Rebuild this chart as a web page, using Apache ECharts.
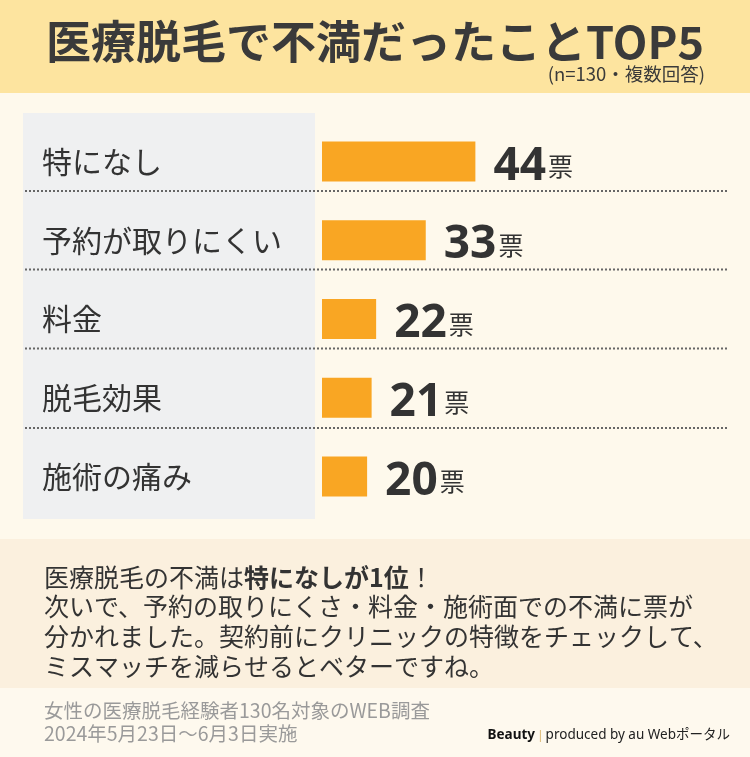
<!DOCTYPE html>
<html><head><meta charset="utf-8">
<script src="https://cdn.jsdelivr.net/npm/echarts@6/dist/echarts.min.js"></script>
<style>html,body{margin:0;padding:0;background:#fef9ec}#c{width:750px;height:757px}</style>
</head><body><div id="c"></div>
<script>
const categories = ['特になし', '予約が取りにくい', '料金', '脱毛効果', '施術の痛み'];
const votes = [44, 33, 22, 21, 20];
const unit = '票';
const titleText = '医療脱毛で不満だったことTOP5';
const subtitleText = '(n=130・複数回答)';
const noteLines = ['次いで、予約の取りにくさ・料金・施術面での不満に票が', '分かれました。契約前にクリニックの特徴をチェックして、', 'ミスマッチを減らせるとベターですね。'];
const sourceLines = ['女性の医療脱毛経験者130名対象のWEB調査', '2024年5月23日〜6月3日実施'];

const JP = '"Noto Sans CJK JP", "Noto Sans", sans-serif';
const chart = echarts.init(document.getElementById('c'));

const seps = [191, 269.5, 348.5, 428];
const graphics = [
  {type:'rect', z:-10, shape:{x:0,y:0,width:750,height:93}, style:{fill:'#fde49f'}},
  {type:'rect', z:-10, shape:{x:0,y:93,width:750,height:446}, style:{fill:'#fef9ec'}},
  {type:'rect', z:-9, shape:{x:23,y:113,width:292,height:406}, style:{fill:'#eff0f1'}},
  {type:'rect', z:-10, shape:{x:0,y:539,width:750,height:149}, style:{fill:'#fbf0de'}},
  {type:'rect', z:-10, shape:{x:0,y:688,width:750,height:69}, style:{fill:'#fef9ee'}},
  {type:'text', z:5, x:375, y:42, style:{text:titleText, fill:'#3a3a3a', font:'bold 45px ' + JP, textAlign:'center', textVerticalAlign:'middle'}},
  {type:'text', z:5, x:705, y:74, style:{text:subtitleText, fill:'#3a3a3a', font:'18.5px ' + JP, textAlign:'right', textVerticalAlign:'middle'}},
  {type:'text', z:5, x:44, y:577, style:{text:'{a|医療脱毛の不満は}{b|特になしが1位}{a|！}', textVerticalAlign:'middle', rich:{a:{fontSize:25, fontFamily:JP, fill:'#333', color:'#333'}, b:{fontSize:25, fontFamily:JP, fontWeight:'bold', fill:'#333', color:'#333'}}}},
  {type:'text', z:5, x:730, y:735, style:{text:'{b|Beauty}{s| | }{p|produced by au Webポータル}', textAlign:'right', textVerticalAlign:'middle', rich:{b:{fontSize:13.5, fontWeight:'bold', fontFamily:'"Noto Sans", ' + JP, color:'#111', fill:'#111'}, s:{fontSize:13, color:'#e0c080', fill:'#e0c080'}, p:{fontSize:13.5, fontFamily:'"Noto Sans", ' + JP, color:'#222', fill:'#222'}}}}
];
noteLines.forEach((t, i) => graphics.push({type:'text', z:5, x:44, y:606 + i*30, style:{text:t, fill:'#333', font:'25px ' + JP, textVerticalAlign:'middle'}}));
sourceLines.forEach((t, i) => graphics.push({type:'text', z:5, x:44, y:711 + i*23, style:{text:t, fill:'#9a9a9a', font:'19.5px ' + JP, textVerticalAlign:'middle'}}));
seps.forEach(y => graphics.push({type:'line', z:-5, shape:{x1:25,y1:y,x2:728,y2:y}, style:{stroke:'#666', lineWidth:2, lineDash:[2,2]}}));

chart.setOption({
  animation:false,
  backgroundColor:'#fef9ec',
  graphic: graphics,
  grid:{left:322, right:22, top:122, height:394},
  xAxis:{type:'value', min:10, max:100, show:false},
  yAxis:{type:'category', data:categories, inverse:true,
    axisLine:{show:false}, axisTick:{show:false}, splitLine:{show:false},
    axisLabel:{align:'left', margin:280, fontSize:30, color:'#333', fontFamily:JP}},
  series:[{type:'bar', data:votes, barWidth:40, itemStyle:{color:'#f9a623'},
    label:{show:true, position:'right', distance:18, offset:[0,5],
      formatter: p => '{n|' + p.value + '}{u|' + unit + '}',
      rich:{n:{fontSize:46, fontWeight:'bold', color:'#333', fontFamily:'"Noto Sans", sans-serif', verticalAlign:'middle', lineHeight:46},
            u:{fontSize:25, color:'#333', fontFamily:JP, verticalAlign:'middle', lineHeight:46, padding:[0,0,0,2]}}}}]
});
</script></body></html>
